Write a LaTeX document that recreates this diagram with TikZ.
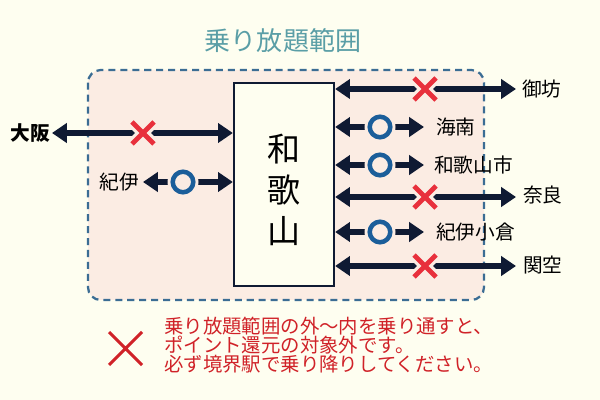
\documentclass[tikz,border=0pt]{standalone}
\usepackage{fontspec}
\setmainfont{Noto Sans CJK JP}
\usetikzlibrary{arrows.meta,calc}
\definecolor{bg}{HTML}{FEFEF0}
\definecolor{pinkfill}{HTML}{FBECE3}
\definecolor{dashblue}{HTML}{3B6D94}
\definecolor{navy}{HTML}{0F1A33}
\definecolor{xred}{HTML}{E8303C}
\definecolor{oblue}{HTML}{1B5E9A}
\definecolor{titlec}{HTML}{5A9EA6}
\definecolor{notec}{HTML}{D02228}
\tikzset{
  rail/.style={navy, line width=4.3pt, {Triangle[length=10.5pt,width=13.5pt]}-{Triangle[length=10.5pt,width=13.5pt]}},
  xmark/.style={xred, line width=3.4pt},
  halo/.style={pinkfill, line width=8pt},
  omark/.style={circle, draw=oblue, line width=3.2pt, fill=pinkfill, minimum size=14.6pt, inner sep=0pt},
  lbl/.style={anchor=west, font=\fontsize{14}{16}\selectfont, inner sep=0pt},
}
\begin{document}
\begin{tikzpicture}[x=0.025cm,y=-0.025cm]
\fill[bg] (0,0) rectangle (600,400);
\useasboundingbox (0,0) rectangle (600,400);
% title
\node[titlec, font=\fontsize{18.5}{20}\selectfont] (title) at (283,41) {乗り放題範囲};
% free-ride zone
\draw[dashblue, fill=pinkfill, line width=1.6pt, dash pattern=on 5pt off 3.5pt, rounded corners=9pt] (88,70) rectangle (484,300);
% centre box
\node[draw=navy, line width=1.6pt, fill=bg, minimum width=2.5cm, minimum height=5.075cm, inner sep=0pt] (wk) at (284,184.5) {};
\node[align=center, font=\fontsize{23.5}{29}\selectfont] (wkl) at (284,190) {和\\歌\\山};
% left side
\node[font=\bfseries\fontsize{14}{16}\selectfont, anchor=east, inner sep=0pt] (osaka) at (50,133) {大阪};
\coordinate (osakaE) at (52,133);
\draw[rail] (osakaE) -- (wk.west |- osakaE);
\node[lbl, anchor=east] (kii) at (139,182) {紀伊};
\coordinate (kiiE) at (143,182);
\draw[rail] (kiiE) -- (wk.west |- kiiE);
% right side
\coordinate (gobo) at (516,89);
\coordinate (kainan) at (424,127);
\coordinate (wakashi) at (424,165);
\coordinate (nara) at (516,197);
\coordinate (kokura) at (424,232);
\coordinate (kanku) at (516,266);
\foreach \c in {gobo,kainan,wakashi,nara,kokura,kanku}{
  \draw[rail] (wk.east |- \c) -- (\c);
}
% x marks
\foreach \px/\py in {143/133,425/89,425/197,425/266}{
  \draw[halo] (\px-12,\py-12) -- (\px+12,\py+12) (\px-12,\py+12) -- (\px+12,\py-12);
  \draw[xmark] (\px-11,\py-11) -- (\px+11,\py+11) (\px-11,\py+11) -- (\px+11,\py-11);
}
% o marks
\foreach \px/\py/\n in {183/182/o1,380/127/o2,380/165/o3,380/232/o4}{
  \fill[pinkfill] (\px,\py) circle (15.5);
  \node[omark] (\n) at (\px,\py) {};
}
\node[lbl] (lgobo) at (522,89) {御坊};
\node[lbl] (lkainan) at (436,127) {海南};
\node[lbl] (lwakashi) at (434,165) {和歌山市};
\node[lbl] (lnara) at (523,195) {奈良};
\node[lbl] (lkokura) at (436,232) {紀伊小倉};
\node[lbl] (lkanku) at (523,265) {関空};
% note
\draw[notec, line width=2.2pt] (109,332) -- (142,365) (109,365) -- (142,332);
\node[notec, anchor=north west, align=left, inner sep=0pt, font=\fontsize{13.8}{13.6}\selectfont] (note) at (164,317) {乗り放題範囲の外～内を乗り通すと、\\ポイント還元の対象外です。\\必ず境界駅で乗り降りしてください。};
\end{tikzpicture}
\end{document}
